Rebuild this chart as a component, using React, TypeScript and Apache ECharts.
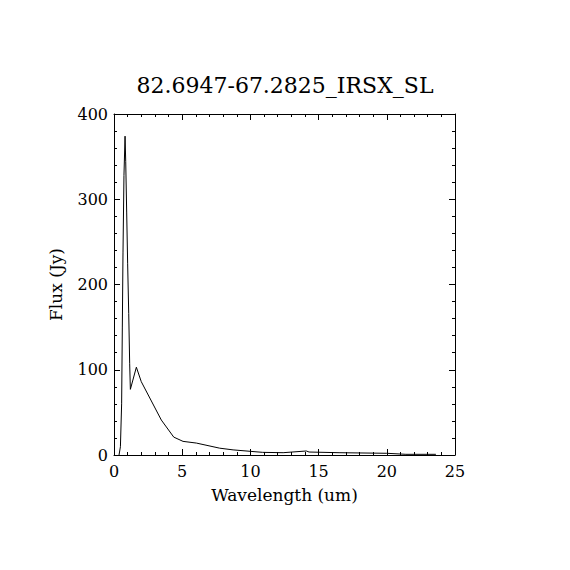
import React, { useEffect, useRef } from "react";
import * as echarts from "echarts";

const titleText = "82.6947-67.2825_IRSX_SL";
const xName = "Wavelength (um)";
const yName = "Flux (Jy)";
const wavelength = [0.37, 0.47, 0.56, 0.61, 0.66, 0.73, 0.81, 0.86, 0.93, 1.0, 1.08, 1.15, 1.2, 1.64, 2.0, 3.47, 4.38, 5.06, 6.04, 7.75, 8.73, 10.9, 12.4, 14.1, 14.3, 16.5, 20.0, 21.4, 23.6];
const flux = [0, 9.7, 60, 149, 238, 328, 374, 344, 285, 225, 166, 107, 77, 103, 86, 41, 21, 16, 14, 8, 6, 3.1, 2.7, 4.7, 3.5, 2.7, 2.0, 0.8, 0.8];

const FONT = "DejaVu Serif";

export default function App() {
  const ref = useRef<HTMLDivElement>(null);
  useEffect(() => {
    const chart = echarts.init(ref.current!, undefined, { renderer: "svg" });
    const data = wavelength.map((w, i) => [w, flux[i]]);
    const axisCommon = {
      axisLine: { show: true, onZero: false, lineStyle: { color: "#000", width: 1 } },
      axisTick: { show: true, inside: true, length: 6, lineStyle: { color: "#000" } },
      minorTick: { show: true, splitNumber: 5, length: 3, lineStyle: { color: "#000" } },
      splitLine: { show: false },
      minorSplitLine: { show: false },
    };
    chart.setOption({
      animation: false,
      backgroundColor: "#fff",
      title: {
        text: titleText,
        left: "center",
        top: 69,
        textStyle: { fontFamily: FONT, fontSize: 22, fontWeight: "normal", color: "#000" },
      },
      grid: { left: 114, top: 114, width: 341, height: 341 },
      xAxis: [
        {
          type: "value",
          min: 0,
          max: 25,
          interval: 5,
          position: "bottom",
          name: xName,
          nameLocation: "middle",
          nameGap: 31,
          nameTextStyle: { fontFamily: FONT, fontSize: 17, color: "#000" },
          axisLabel: { fontFamily: FONT, fontSize: 16, color: "#000", margin: 8 },
          ...axisCommon,
        },
        {
          type: "value",
          min: 0,
          max: 25,
          interval: 5,
          position: "top",
          axisLabel: { show: false },
          ...axisCommon,
        },
      ],
      yAxis: [
        {
          type: "value",
          min: 0,
          max: 400,
          interval: 100,
          position: "left",
          name: yName,
          nameLocation: "middle",
          nameGap: 50,
          nameTextStyle: { fontFamily: FONT, fontSize: 17, color: "#000" },
          axisLabel: { fontFamily: FONT, fontSize: 16, color: "#000", margin: 6 },
          ...axisCommon,
        },
        {
          type: "value",
          min: 0,
          max: 400,
          interval: 100,
          position: "right",
          axisLabel: { show: false },
          ...axisCommon,
        },
      ],
      series: [
        {
          type: "line",
          data,
          xAxisIndex: 0,
          yAxisIndex: 0,
          showSymbol: false,
          symbol: "none",
          lineStyle: { color: "#000", width: 1 },
        },
      ],
    });
    return () => chart.dispose();
  }, []);
  return (
    <div
      ref={ref}
      style={{ position: "fixed", left: 0, top: 0, width: 570, height: 570, background: "#fff" }}
    />
  );
}
